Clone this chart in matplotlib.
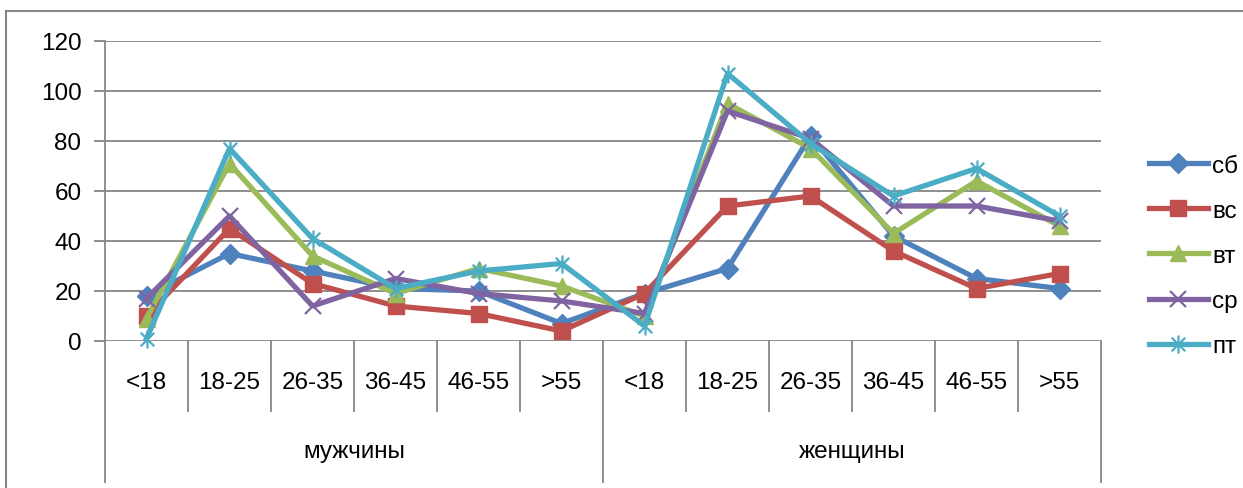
import numpy as np
import matplotlib
matplotlib.use("Agg")
import matplotlib.pyplot as plt
from matplotlib.path import Path
from matplotlib.lines import Line2D

plt.rcParams['font.family'] = ['Liberation Sans', 'DejaVu Sans']

# -------------------------
# Data
# -------------------------
ages = ["<18", "18-25", "26-35", "36-45", "46-55", ">55"]
groups = ["мужчины", "женщины"]
series_names = ["сб", "вс", "вт", "ср", "пт"]

sb = [18, 35, 28, 21, 20, 7, 19, 29, 82, 42, 25, 21]
vs = [10, 45, 23, 14, 11, 4, 19, 54, 58, 36, 21, 27]
vt = [9, 71, 34, 19, 29, 22, 10, 95, 77, 43, 64, 46]
sr = [17, 50, 14, 25, 19, 16, 11, 92, 81, 54, 54, 48]
pt = [1, 77, 41, 21, 28, 31, 6, 107, 79, 58, 69, 50]

colors = ["#4F81BD", "#C0504D", "#9BBB59", "#8064A2", "#4BACC6"]

# Excel-style star: vertical bar plus an X
star = Path([(0, -1), (0, 1), (-0.75, -0.75), (0.75, 0.75), (-0.75, 0.75), (0.75, -0.75)],
            [Path.MOVETO, Path.LINETO, Path.MOVETO, Path.LINETO, Path.MOVETO, Path.LINETO])
markers = ["D", "s", "^", "x", star]
msizes = [10, 12, 11, 12, 13]

W, H = 1243, 489
fig = plt.figure(figsize=(W / 100, H / 100), dpi=100)

# plot area in pixels
x0, x1, ytop, ybot = 105, 1101, 42, 342
ax = fig.add_axes([x0 / W, 1 - ybot / H, (x1 - x0) / W, (ybot - ytop) / H])

grid_c = "#868686"
fs = 17.5
x = np.arange(12)
for vals, name, c, m, ms in zip([sb, vs, vt, sr, pt], series_names, colors, markers, msizes):
    ax.plot(x, vals, color=c, lw=3.8, marker=m, markersize=ms,
            markerfacecolor=c, markeredgecolor=c,
            markeredgewidth=1.6 if m in ("x",) or m is star else 1,
            label=name, zorder=3, clip_on=False)

ax.set_xlim(-0.5, 11.5)
ax.set_ylim(0, 120)
ax.set_yticks(range(0, 121, 20))
ax.tick_params(axis="y", length=8, width=1.3, color=grid_c, labelsize=fs, pad=9)
ax.set_xticks([])
for s in ["top", "right", "bottom"]:
    ax.spines[s].set_visible(False)
ax.spines["left"].set_color(grid_c)
ax.spines["left"].set_linewidth(1.3)
ax.yaxis.grid(True, color=grid_c, lw=1.3, zorder=0)
ax.set_axisbelow(True)

# category axis: separators and labels
def fx(px):
    return px / W

def fy(py):
    return 1 - py / H

cw = (x1 - x0) / 12
for i in range(13):
    px = x0 + i * cw
    yend = 483 if i % 6 == 0 else 412
    fig.add_artist(Line2D([fx(px), fx(px)], [fy(ybot), fy(yend)], color=grid_c, lw=1.3))
for i in range(12):
    fig.text(fx(x0 + (i + 0.5) * cw), fy(383), ages[i % 6], ha="center", va="center", fontsize=fs)
for g in range(2):
    fig.text(fx(x0 + (g * 6 + 3) * cw), fy(452), groups[g], ha="center", va="center", fontsize=fs)

# outer chart border (top and left visible)
fig.add_artist(Line2D([fx(6), fx(6)], [fy(12), fy(495)], color=grid_c, lw=1.5))
fig.add_artist(Line2D([fx(6), fx(1250)], [fy(12), fy(12)], color=grid_c, lw=1.5))

leg = fig.legend(loc="upper left", bbox_to_anchor=(fx(1139), fy(146)), frameon=False,
                 fontsize=fs, handlelength=2.45, handletextpad=0.15, labelspacing=0.95,
                 borderaxespad=0)

fig.savefig("out.png", dpi=100)
